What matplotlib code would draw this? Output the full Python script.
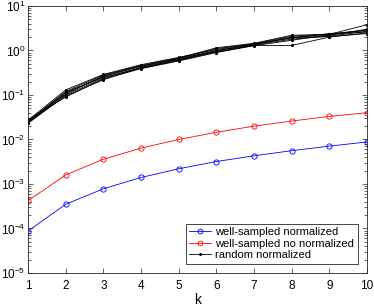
import matplotlib
matplotlib.use("Agg")
import matplotlib.pyplot as plt
from matplotlib.ticker import LogLocator, NullFormatter, LogFormatterSciNotation

plt.rcParams['font.family'] = ['Liberation Sans', 'DejaVu Sans']
plt.rcParams['mathtext.fontset'] = 'custom'
plt.rcParams['mathtext.rm'] = 'Liberation Sans'
plt.rcParams['mathtext.it'] = 'Liberation Sans:italic'
plt.rcParams['font.size'] = 8

k = [1, 2, 3, 4, 5, 6, 7, 8, 9, 10]
well_norm = [8.8e-5, 3.5e-4, 7.8e-4, 1.4e-3, 2.2e-3, 3.2e-3, 4.3e-3, 5.6e-3, 7.1e-3, 8.8e-3]
well_nonorm = [4.2e-4, 1.6e-3, 3.6e-3, 6.4e-3, 1.0e-2, 1.45e-2, 2.0e-2, 2.6e-2, 3.3e-2, 4.0e-2]
random_norm = [
    [0.025, 0.120, 0.28, 0.46, 0.68, 1.15, 1.45, 2.20, 2.30, 3.8],
    [0.027, 0.130, 0.29, 0.48, 0.70, 1.05, 1.40, 1.90, 2.40, 2.8],
    [0.024, 0.110, 0.26, 0.44, 0.65, 1.00, 1.35, 2.00, 2.20, 2.9],
    [0.023, 0.100, 0.24, 0.42, 0.62, 0.95, 1.30, 1.30, 2.00, 2.5],
    [0.026, 0.115, 0.25, 0.40, 0.60, 0.92, 1.32, 1.80, 2.10, 2.7],
    [0.028, 0.090, 0.23, 0.39, 0.58, 0.90, 1.28, 1.70, 2.25, 3.0],
    [0.025, 0.105, 0.27, 0.45, 0.66, 1.10, 1.42, 2.10, 2.35, 2.6],
    [0.024, 0.095, 0.22, 0.41, 0.63, 0.98, 1.38, 1.95, 2.05, 2.4],
]

fig = plt.figure(figsize=(3.74, 3.07), dpi=100)
ax = fig.add_axes([28/374, 1-273/307, (367-28)/374, (273-6)/307])

ax.semilogy(k, well_norm, '-o', color='blue', lw=0.6, ms=3.8, mfc='none', mew=0.6,
            label='well-sampled normalized')
ax.semilogy(k, well_nonorm, '-o', color='red', lw=0.6, ms=3.8, mfc='none', mew=0.6,
            label='well-sampled no normalized')
for i, r in enumerate(random_norm):
    ax.semilogy(k, r, '-', color='black', lw=0.6, marker='.', ms=2.5,
                label='random normalized' if i == 0 else None)

ax.set_xlim(1, 10)
ax.set_ylim(1e-5, 1e1)
ax.set_xticks(k)
ax.yaxis.set_major_locator(LogLocator(base=10, numticks=10))
ax.yaxis.set_minor_locator(LogLocator(base=10, subs=range(2, 10), numticks=20))
ax.yaxis.set_minor_formatter(NullFormatter())
ax.yaxis.set_major_formatter(LogFormatterSciNotation())

gray = '#262626'
for s in ax.spines.values():
    s.set_color(gray)
    s.set_linewidth(0.6)
ax.tick_params(which='both', direction='in', top=True, right=True, colors=gray,
               labelcolor='black', width=0.5)
ax.tick_params(which='major', length=3.5, labelsize=8.5)
ax.tick_params(axis='x', which='major', pad=5)
ax.tick_params(axis='y', which='major', pad=2)
ax.tick_params(which='minor', length=2)

ax.set_xlabel('k', fontsize=10, labelpad=1)

leg = ax.legend(loc='lower right', fontsize=8, fancybox=False, framealpha=1,
                edgecolor=gray, borderaxespad=0.85, handlelength=2.0,
                handletextpad=0.35, labelspacing=0.15, borderpad=0.3,
                markerscale=0.9)
leg.get_frame().set_linewidth(0.6)

fig.savefig('out.png', dpi=100)
